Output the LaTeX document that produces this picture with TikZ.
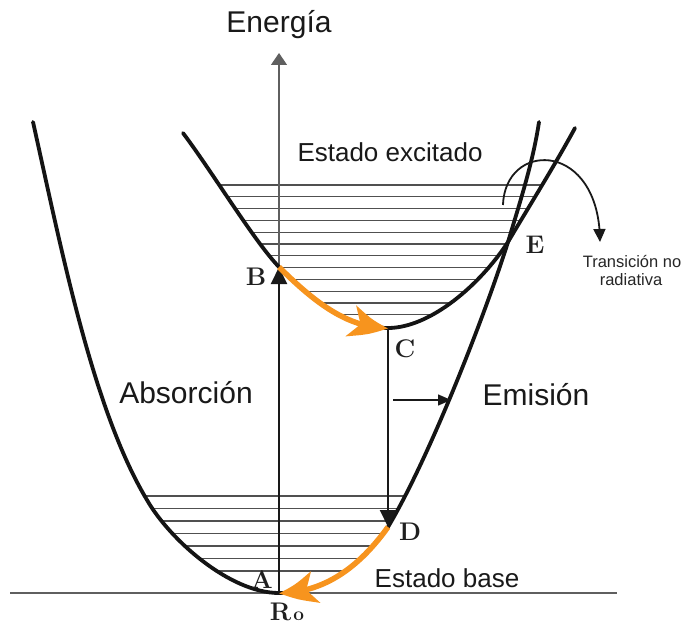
\documentclass[tikz,border=0pt]{standalone}
\usepackage{fontspec}
\newfontfamily\labfont{Liberation Sans}
\usetikzlibrary{arrows.meta,bending}
\definecolor{orangearr}{RGB}{247,148,30}
\definecolor{levelgray}{RGB}{80,80,80}
\definecolor{axisgray}{RGB}{95,95,95}
\begin{document}
\begin{tikzpicture}[x=1pt,y=-1pt,
  curve/.style={line width=3.8pt, line cap=round, black!92},
  level/.style={line width=1.3pt, levelgray},
  bigtext/.style={font=\labfont\fontsize{30}{36}\selectfont, anchor=base, inner sep=0pt, text=black!90},
  midtext/.style={font=\labfont\fontsize{26}{31}\selectfont, anchor=base, inner sep=0pt, text=black!90},
  smalltext/.style={font=\labfont\fontsize{16.5}{20}\selectfont, anchor=base, inner sep=0pt, text=black!85},
  letter/.style={font=\bfseries\fontsize{25.5}{30}\selectfont, anchor=base, inner sep=0pt, text=black!88},
  orangepath/.style={line width=5.5pt, orangearr, -{Stealth[length=38pt,width=32pt,inset=10pt,bend]}},
  vertarrow/.style={line width=2pt, black!90, -{Triangle[width=16pt,length=17pt]}}
]
\useasboundingbox (0,0) rectangle (682,628);
\fill[white] (0,0) rectangle (682,628);

% key points
\coordinate (A0) at (279,593);
\coordinate (B) at (279,267);
\coordinate (C) at (388,328);
\coordinate (D) at (388,527);
\coordinate (E) at (508,242);
\coordinate (axtop) at (279,53);
\coordinate (gl) at (33,122);
\coordinate (gm) at (147,500);
\coordinate (gr) at (539,122);
\coordinate (el) at (183,133);
\coordinate (er) at (575,128);
\coordinate (nrs) at (503,205);
\coordinate (nre) at (600,242);
\coordinate (em1) at (393,400);
\coordinate (em2) at (451,400);
\coordinate (bl) at (10,593);
\coordinate (br) at (617,593);

% vibrational levels, excited state
\begin{scope}
  \clip (el) .. controls (213,173) and (254,241) .. (B)
        .. controls (318,306) and (350,328) .. (C)
        .. controls (430,328) and (480,285) .. (E)
        .. controls (525,213) and (555,165) .. (er) -- cycle;
  \foreach \k in {0,...,11}
    \draw[level] (150,{185+11.8*\k}) -- (620,{185+11.8*\k});
\end{scope}

% vibrational levels, ground state
\begin{scope}
  \clip (gl) .. controls (62,252) and (93,410) .. (gm)
        .. controls (170,540) and (230,593) .. (A0)
        .. controls (325,593) and (360,566) .. (D)
        .. controls (430,457) and (486,312) .. (E)
        .. controls (520,202) and (533,162) .. (gr) -- cycle;
  \foreach \k in {0,...,6}
    \draw[level] (10,{496+12.5*\k}) -- (600,{496+12.5*\k});
\end{scope}

% baseline
\draw[line width=1.4pt, axisgray] (bl) -- (br);

% energy axis
\draw[line width=1.3pt, axisgray, -{Triangle[width=16pt,length=12pt]}] (A0) -- (axtop);

% potential curves
\draw[curve] (gl) .. controls (62,252) and (93,410) .. (gm)
        .. controls (170,540) and (230,593) .. (A0)
        .. controls (325,593) and (360,566) .. (D)
        .. controls (430,457) and (486,312) .. (E)
        .. controls (520,202) and (533,162) .. (gr);
\draw[curve] (el) .. controls (213,173) and (254,241) .. (B)
        .. controls (318,306) and (350,328) .. (C)
        .. controls (430,328) and (480,285) .. (E)
        .. controls (525,213) and (555,165) .. (er);

% absorption and emission
\draw[vertarrow] (A0) -- (B);
\draw[vertarrow] (C) -- (D);
\draw[line width=1.5pt, black!90, -{Triangle[width=11pt,length=13pt]}] (em1) -- (em2);

% relaxation arrows
\draw[orangepath] (B) .. controls (318,306) and (350,328) .. (C);
\draw[orangepath] (D) .. controls (360,566) and (325,593) .. (A0);

% non-radiative transition
\draw[line width=1.8pt, black!90, -{Triangle[width=12pt,length=13pt]}]
  (nrs) .. controls (505,140) and (600,140) .. (nre);

% texts
\node[bigtext] (tEnergia) at (279,33) {Energía};
\node[midtext] (tExc) at (390,162) {Estado excitado};
\node[bigtext] (tAbs) at (186,403) {Absorción};
\node[bigtext] (tEmi) at (536,405) {Emisión};
\node[midtext] (tBase) at (447,587) {Estado base};
\node[smalltext] (tTr1) at (632,267) {Transición no};
\node[smalltext] (tTr2) at (631,285) {radiativa};

\node[letter] (lB) at (256,285) {B};
\node[letter] (lC) at (405,357) {C};
\node[letter] (lD) at (410,540) {D};
\node[letter] (lE) at (535,254) {E};
\node[letter] (lA) at (262,588) {A};
\node[letter] (lR) at (287,620) {R\kern2pt{\fontsize{19}{20}\selectfont o}};
\end{tikzpicture}
\end{document}
